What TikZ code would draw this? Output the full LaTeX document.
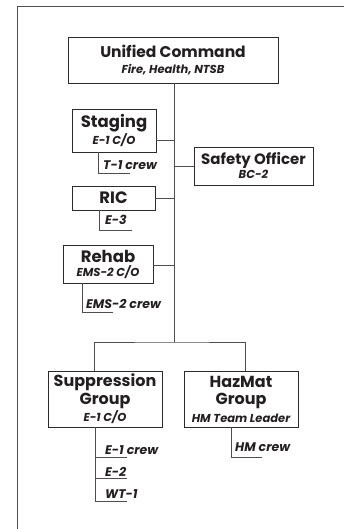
\documentclass[tikz,border=0pt]{standalone}
\usepackage{fontspec}
\setmainfont{Poppins}
\definecolor{boxline}{RGB}{45,42,42}
\definecolor{linkline}{RGB}{80,77,77}
\definecolor{inkblack}{RGB}{35,31,32}
\newcommand{\Sub}[1]{{\fontsize{11.5}{12}\selectfont\itshape #1}}
\tikzstyle{unit}=[draw=boxline, line width=0.9pt, align=center, inner sep=0pt, text=inkblack]
\tikzstyle{link}=[draw=linkline, line width=0.9pt]
\tikzstyle{crew}=[anchor=base west, inner sep=0pt, text=inkblack, font=\fontsize{12.5}{12}\selectfont\bfseries\itshape]

\begin{document}
\begin{tikzpicture}[x=1pt,y=-1pt]
  \useasboundingbox (0,0) rectangle (344,529);
  \draw[link] (344,6) -- (17,6) -- (17,529);

  \draw (173,60) node[unit, minimum width=210pt, minimum height=46pt, font=\fontsize{15.5}{16}\selectfont\bfseries] (UC) {Unified Command\\ \Sub{Fire, Health, NTSB}};
  \draw (114,130.5) node[unit, minimum width=84pt, minimum height=43pt, font=\fontsize{16.5}{14}\selectfont\bfseries] (Staging) {Staging\\ \Sub{E-1 C/O}};
  \draw (253.5,166) node[unit, minimum width=119pt, minimum height=38pt, font=\fontsize{15}{14}\selectfont\bfseries] (Safety) {Safety Officer\\ \Sub{BC-2}};
  \draw (113.5,198) node[unit, minimum width=83pt, minimum height=24pt, font=\fontsize{16.5}{16}\selectfont\bfseries] (RIC) {RIC};
  \draw (108,264) node[unit, minimum width=90pt, minimum height=38pt, font=\fontsize{16.5}{14}\selectfont\bfseries] (Rehab) {Rehab\\ \Sub{EMS-2 C/O}};
  \draw (105,399) node[unit, minimum width=114pt, minimum height=56pt, font=\fontsize{16}{17.5}\selectfont\bfseries] (Supp) {Suppression\\ Group\\ \Sub{E-1 C/O}};
  \draw (241,399) node[unit, minimum width=114pt, minimum height=56pt, font=\fontsize{16}{17.5}\selectfont\bfseries] (HazMat) {HazMat\\ Group\\ \Sub{HM Team Leader}};

  %% trunk and branches
  \coordinate (split) at (174,342);
  \draw[link] (UC.south -| split) -- (split);
  \draw[link] ([xshift=-11pt]Supp.north) |- (split) -| ([xshift=4pt]HazMat.north);
  \draw[link] ([yshift=-9.5pt]Staging.east) -- ([yshift=-9.5pt]Staging.east -| split);
  \draw[link] (Safety.west) -- (Safety.west -| split);
  \draw[link] (RIC.east) -- (RIC.east -| split);
  \draw[link] ([yshift=-1pt]Rehab.east) -- ([yshift=-1pt]Rehab.east -| split);

  %% crews
  \node[crew] (T1crew) at (103,169.5) {T-1 crew};
  \coordinate (T1end) at (130,173);
  \draw[link] ([xshift=27pt]Staging.south west) |- (T1end);

  \node[crew] (E3) at (105,224) {E-3};
  \coordinate (E3end) at (132,230);
  \draw[link] ([xshift=28pt]RIC.south west) |- (E3end);

  \node[crew] (EMS2crew) at (86,308) {EMS-2 crew};
  \coordinate (EMS2end) at (113,312);
  \draw[link] ([xshift=20pt]Rehab.south west) |- (EMS2end);

  \node[crew] (E1crew) at (105,454) {E-1 crew};
  \node[crew] (E2) at (105,476) {E-2};
  \node[crew] (WT1) at (105,498) {WT-1};
  \coordinate (E1end) at (127,457);
  \coordinate (E2end) at (127,478);
  \coordinate (WT1end) at (127,501);
  \draw[link] ([xshift=48pt]Supp.south west) |- (WT1end);
  \draw[link] (E1end) -| ([xshift=48pt]Supp.south west);
  \draw[link] (E2end) -| ([xshift=48pt]Supp.south west);

  \node[crew] (HMcrew) at (235,451) {HM crew};
  \coordinate (HMend) at (262,457);
  \draw[link] ([xshift=48pt]HazMat.south west) |- (HMend);
\end{tikzpicture}
\end{document}
